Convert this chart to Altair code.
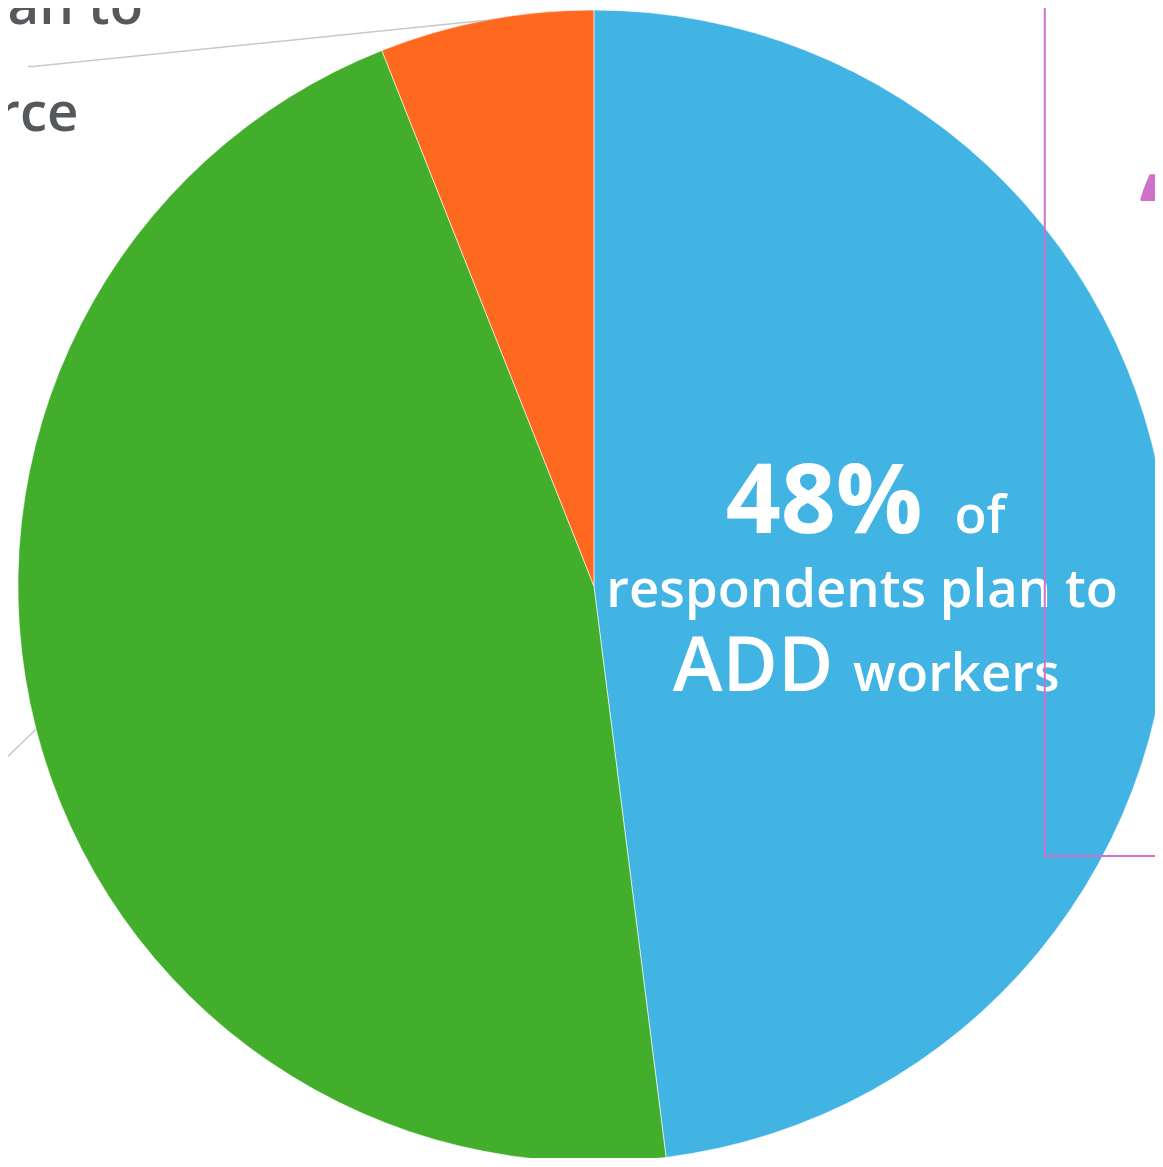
import altair as alt
import numpy as np
import pandas as pd

# ---- data ----
categories = ["Add workers", "Keep workforce the same", "Reduce workforce"]
shares = [48, 46, 6]
colors = ["#42B4E3", "#42AE2C", "#FF691F"]

blue_label_lines = ["48%", "of", "respondents plan to", "ADD", "workers"]
orange_label_lines = ["6% of respondents plan to", "REDUCE workforce"]
quote_mark = "\u201c"

# ---- layout (pixel positions in the plot area) ----
M = 8
CX, CY, R = 598 - M, 586 - M, 580
FONT = "Open Sans"

pie_df = pd.DataFrame({"category": categories, "share": shares, "order": range(len(shares))})

pie = alt.Chart(pie_df).mark_arc(radius=R, stroke="white", strokeWidth=0.6).encode(
    theta=alt.Theta("share:Q", stack=True),
    color=alt.Color("category:N", scale=alt.Scale(domain=categories, range=colors), legend=None),
    order=alt.Order("order:Q"),
    x=alt.value(CX),
    y=alt.value(CY),
)


def txt(rows, **mark):
    df = pd.DataFrame(rows, columns=["text", "x", "y"])
    return alt.Chart(df).mark_text(font=FONT, baseline="alphabetic", **mark).encode(
        x=alt.X("x:Q", scale=None, axis=None),
        y=alt.Y("y:Q", scale=None, axis=None),
        text="text:N",
    )


white = "#FFFFFF"
grey = "#55585D"
pink = "#CF71CB"

t_big = txt([[blue_label_lines[0], 929 - M, 533 - M]], fontSize=97, fontWeight="bold", color=white, align="right")
t_of = txt([[blue_label_lines[1], 961 - M, 533 - M]], fontSize=53, fontWeight=600, color=white, align="left")
t_resp = txt([[blue_label_lines[2], 868 - M, 607 - M]], fontSize=53, fontWeight=600, color=white, align="center")
t_add = txt([[blue_label_lines[3], 839 - M, 692 - M]], fontSize=76, fontWeight=600, color=white, align="right")
t_work = txt([[blue_label_lines[4], 859 - M, 692 - M]], fontSize=53, fontWeight=600, color=white, align="left")

t_orange = txt(
    [[orange_label_lines[0], 144 - M, 20 - M], [orange_label_lines[1], 79 - M, 128 - M]],
    fontSize=55, fontWeight=600, color=grey, align="right",
)

# leader lines start on the rim at each slice's mid-angle
cum = np.cumsum(shares)
mid = (cum - np.array(shares) / 2) / cum[-1] * 2 * np.pi
sx = CX + R * np.sin(mid)
sy = CY - R * np.cos(mid)
lead_df = pd.DataFrame({
    "line": ["orange", "orange", "orange", "green", "green"],
    "i": [0, 1, 2, 0, 1],
    "x": [sx[2], 33 - M, 28 - M, sx[1], -8 - M],
    "y": [sy[2], 63 - M, 63 - M, sy[1], 773 - M],
})
leaders = alt.Chart(lead_df).mark_line(color="#C8C8C8", strokeWidth=1.5).encode(
    x=alt.X("x:Q", scale=None, axis=None),
    y=alt.Y("y:Q", scale=None, axis=None),
    detail="line:N",
    order="i:Q",
)

box_df = pd.DataFrame({"x": [1052 - M], "x2": [1400], "y": [-40], "y2": [858 - M]})
box = alt.Chart(box_df).mark_rect(fill=None, fillOpacity=0, stroke=pink, strokeWidth=2).encode(
    x=alt.X("x:Q", scale=None, axis=None),
    x2="x2:Q",
    y=alt.Y("y:Q", scale=None, axis=None),
    y2="y2:Q",
)

t_quote = txt([[quote_mark, 1147 - M, 250 - M]], fontSize=110, fontWeight="bold", color=pink, align="left")

chart = alt.layer(
    pie, t_big, t_of, t_resp, t_add, t_work, box, t_quote, leaders, t_orange
).properties(
    width=1155, height=1150, padding=0,
    autosize=alt.AutoSizeParams(type="none"),
).configure_view(stroke=None)

chart.save("out.html", embed_options={"renderer": "svg", "actions": False})
